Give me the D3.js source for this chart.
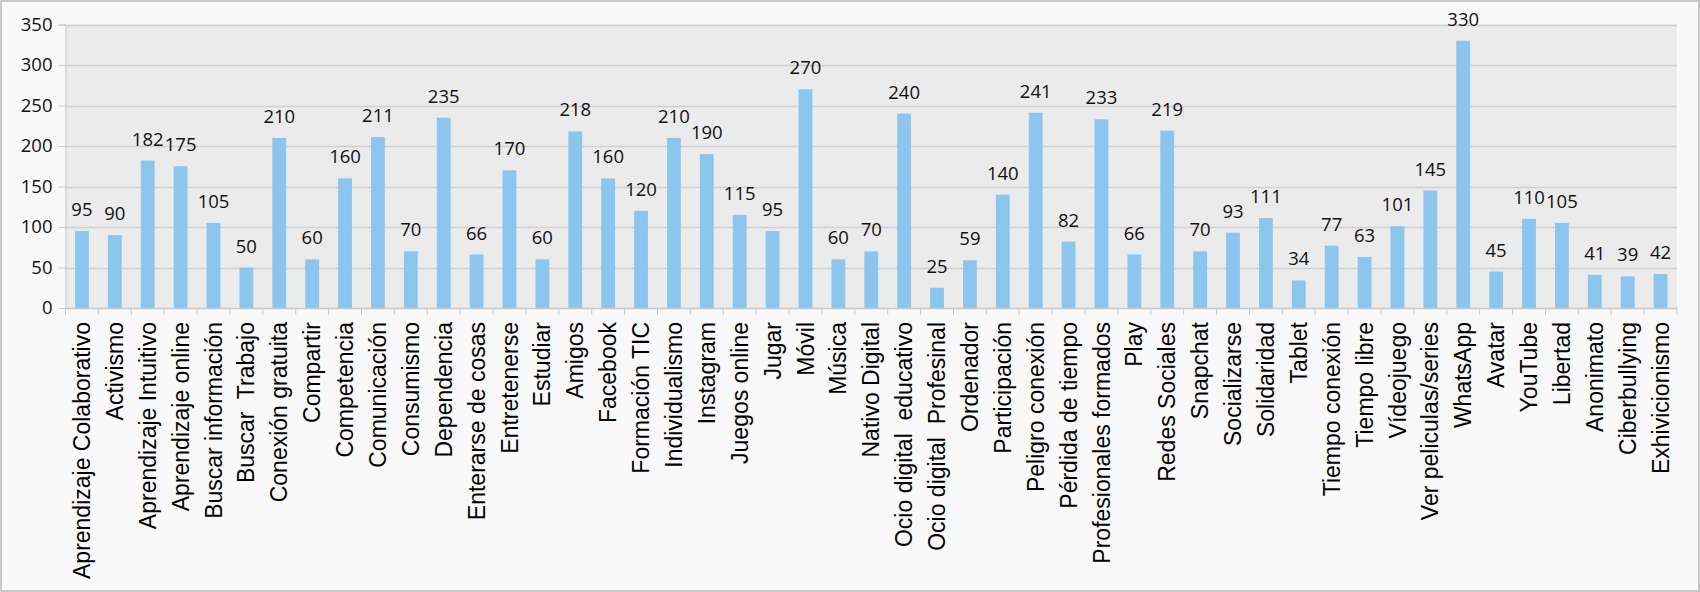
<!DOCTYPE html>
<html><head><meta charset="utf-8">
<script src="https://cdnjs.cloudflare.com/ajax/libs/d3/7.8.5/d3.min.js"></script>
<style>
html,body{margin:0;padding:0;background:#fff;}
svg{display:block;}
</style></head>
<body>
<svg id="chart" width="1700" height="592"></svg>
<script>
const categories = ["Aprendizaje Colaborativo","Activismo","Aprendizaje Intuitivo","Aprendizaje online","Buscar información","Buscar  Trabajo","Conexión gratuita","Compartir","Competencia","Comunicación","Consumismo","Dependencia","Enterarse de cosas","Entretenerse","Estudiar","Amigos","Facebook","Formación TIC","Individualismo","Instagram","Juegos online","Jugar","Móvil","Música","Nativo Digital","Ocio digital  educativo","Ocio digital  Profesinal","Ordenador","Participación","Peligro conexión","Pérdida de tiempo","Profesionales formados","Play","Redes Sociales","Snapchat","Socializarse","Solidaridad","Tablet","Tiempo conexión","Tiempo libre","Vídeojuego","Ver peliculas/series","WhatsApp","Avatar","YouTube","Libertad","Anonimato","Ciberbullying","Exhivicionismo"];
const values = [95,90,182,175,105,50,210,60,160,211,70,235,66,170,60,218,160,120,210,190,115,95,270,60,70,240,25,59,140,241,82,233,66,219,70,93,111,34,77,63,101,145,330,45,110,105,41,39,42];
const yTicks = [0,50,100,150,200,250,300,350];

const svg = d3.select("#chart");
const W = 1700, H = 592;
const plot = {left: 65.5, right: 1677, top: 24.5, bottom: 308};

svg.append("rect").attr("x",1).attr("y",1).attr("width",W-2).attr("height",H-2)
  .attr("fill","#f9f9f9").attr("stroke","#c9c9c9").attr("stroke-width",2);

const x = d3.scaleBand().domain(categories).range([plot.left, plot.right]).paddingInner(0.58).paddingOuter(0.29);
const xb = d3.scaleBand().domain(categories).range([plot.left, plot.right]);
const y = d3.scaleLinear().domain([0,350]).range([plot.bottom, plot.top]);

svg.append("rect").attr("x",plot.left).attr("y",plot.top).attr("width",plot.right-plot.left).attr("height",plot.bottom-plot.top).attr("fill","#ebebeb");

// gridlines + y axis
const yAxis = d3.axisLeft(y).tickValues(yTicks).tickSize(7).tickPadding(6);
const gy = svg.append("g").attr("transform",`translate(${plot.left},0)`).call(yAxis);
gy.select(".domain").attr("stroke","#c8c8c8");
gy.selectAll(".tick line").attr("stroke","#c8c8c8");
gy.selectAll(".tick text").attr("font-family","'Open Sans', sans-serif").attr("font-size","18.5px").attr("fill","#111");
svg.append("g").selectAll("line").data(yTicks.filter(d=>d>0)).join("line")
  .attr("x1",plot.left).attr("x2",plot.right).attr("y1",d=>Math.round(y(d))+0.5).attr("y2",d=>Math.round(y(d))+0.5)
  .attr("stroke","#d0d0d0").attr("stroke-width",1.3);

// bars
svg.append("g").selectAll("rect").data(values).join("rect")
  .attr("x",(d,i)=>x(categories[i]))
  .attr("width",x.bandwidth())
  .attr("y",d=>y(d))
  .attr("height",d=>plot.bottom-y(d))
  .attr("fill","#8cc6ee");

// x axis line & ticks
svg.append("line").attr("x1",plot.left).attr("x2",plot.right).attr("y1",plot.bottom+0.5).attr("y2",plot.bottom+0.5).attr("stroke","#c8c8c8").attr("stroke-width",1.3);
const bounds = categories.map(c=>xb(c)).concat([plot.right]);
svg.append("g").selectAll("line").data(bounds).join("line")
  .attr("x1",d=>d).attr("x2",d=>d).attr("y1",plot.bottom).attr("y2",plot.bottom+7)
  .attr("stroke","#c8c8c8");

// category labels
svg.append("g").selectAll("text").data(categories).join("text")
  .attr("transform",d=>`translate(${xb(d)+xb.bandwidth()/2},${plot.bottom+14}) rotate(-90)`)
  .attr("text-anchor","end").attr("dy","0.35em")
  .attr("font-family","'Liberation Sans', Arial, sans-serif").attr("font-size","23px").attr("fill","#000")
  .style("white-space","pre")
  .text(d=>d);

// value labels
svg.append("g").selectAll("text").data(values).join("text")
  .attr("x",(d,i)=>xb(categories[i])+xb.bandwidth()/2)
  .attr("y",d=>y(d)-15)
  .attr("text-anchor","middle")
  .attr("font-family","'Open Sans', sans-serif").attr("font-size","18.5px").attr("fill","#111")
  .text(d=>d);
</script>
</body></html>
